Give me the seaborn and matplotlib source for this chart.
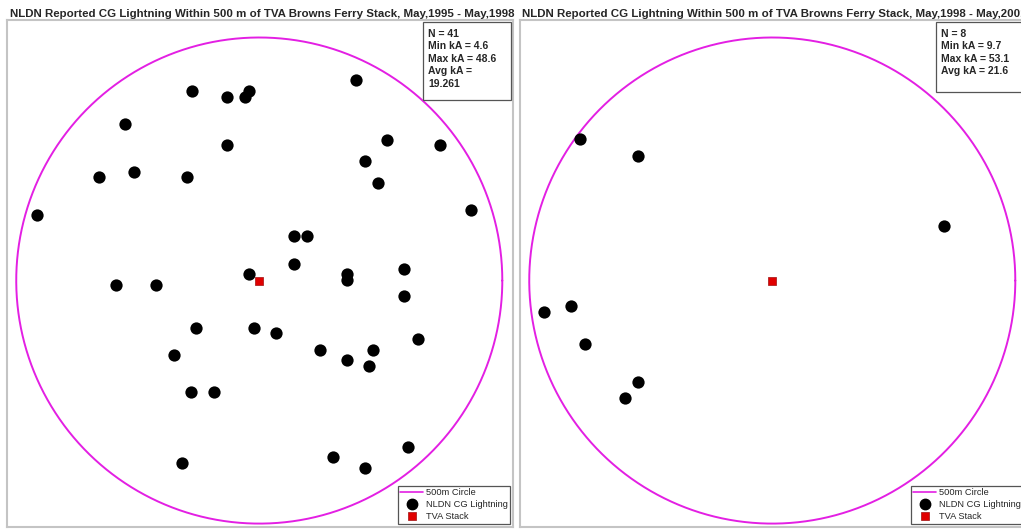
import numpy as np
import pandas as pd
import matplotlib
matplotlib.use('Agg')
import matplotlib.pyplot as plt
from matplotlib.lines import Line2D
from matplotlib.patches import Rectangle
import seaborn as sns

sns.set_style('white')
plt.rcParams['font.family'] = ['Liberation Sans', 'DejaVu Sans']

# strike positions, metres east / north of the stack
x_9598 = [-139, -66, -29, -21, 199, -276, -66, 262, 372, 218, 244, -330, -257, -148,
          -458, 435, 71, 98, 71, -21, 180, 180, 298, -294, -212, 298, -130, -11, 34,
          326, -176, 125, 235, 180, 226, -140, -93, 307, -158, 152, 218]
y_9598 = [389, 378, 378, 389, 412, 323, 279, 290, 279, 246, 201, 212, 223, 212,
          135, 145, 91, 91, 35, 13, 13, 1, 23, -9, -9, -31, -98, -98, -108,
          -120, -153, -142, -142, -164, -176, -230, -230, -342, -375, -363, -385]
x_9801 = [-395, -276, 353, -469, -414, -386, -276, -304]
y_9801 = [291, 257, 113, -64, -53, -130, -209, -241]

stack_x = [0]
stack_y = [0]
radius = 500

titles = ['NLDN Reported CG Lightning Within 500 m of TVA Browns Ferry Stack, May,1995 - May,1998',
          'NLDN Reported CG Lightning Within 500 m of TVA Browns Ferry Stack, May,1998 - May,2001']
stats = ['N = 41\nMin kA = 4.6\nMax kA = 48.6\nAvg kA =\n19.261',
         'N = 8\nMin kA = 9.7\nMax kA = 53.1\nAvg kA = 21.6']
box_bottom = [0.842, 0.858]

magenta = '#e31fe3'
red = '#e00000'

fig = plt.figure(figsize=(10.21, 5.29), dpi=100)
W, H = 1021, 529
axes = [fig.add_axes([7 / W, 2 / H, 506 / W, 507 / H]),
        fig.add_axes([520 / W, 2 / H, 506 / W, 507 / H])]
title_x = [10, 522]

for i, (ax, xs, ys) in enumerate(zip(axes, [x_9598, x_9801], [y_9598, y_9801])):
    pts = pd.DataFrame({'x': xs, 'y': ys})
    theta = np.linspace(0, 2 * np.pi, 400)
    ax.plot(radius * np.cos(theta), radius * np.sin(theta), color=magenta, lw=1.4, zorder=1)
    sns.scatterplot(data=pts, x='x', y='y', ax=ax, color='black', s=78,
                    edgecolor='black', linewidth=0, zorder=3)
    sns.scatterplot(x=stack_x, y=stack_y, ax=ax, color=red, marker='s', s=36,
                    edgecolor='#a01010', linewidth=0.5, zorder=4)
    ax.set_xlim(-519, 522)
    ax.set_ylim(-507, 536)
    ax.set_xticks([])
    ax.set_yticks([])
    ax.set_xlabel('')
    ax.set_ylabel('')
    for sp in ax.spines.values():
        sp.set_color('#c4c4c4')
        sp.set_linewidth(1.5)

    fig.text(title_x[i] / W, 1 - 17 / H, titles[i], fontsize=8.25, fontweight='bold',
             va='baseline', ha='left')

    ax.add_patch(Rectangle((0.822, box_bottom[i]), 0.175, 0.996 - box_bottom[i],
                           transform=ax.transAxes, facecolor='white',
                           edgecolor='#555555', lw=0.9, zorder=5))
    ax.text(0.832, 0.983, stats[i], transform=ax.transAxes, fontsize=7.5,
            fontweight='bold', va='top', ha='left', linespacing=1.32, zorder=6)

    handles = [Line2D([], [], color=magenta, lw=1.2),
               Line2D([], [], color='black', marker='o', ls='none', markersize=7.5),
               Line2D([], [], color=red, marker='s', ls='none', markersize=5.5,
                      markeredgecolor='#a01010', markeredgewidth=0.5)]
    leg = ax.legend(handles, ['500m Circle', 'NLDN CG Lightning', 'TVA Stack'],
                    loc='lower right', bbox_to_anchor=(1.0, 0.0), fontsize=6.7,
                    handlelength=2.5, handletextpad=0.25, labelspacing=0.35,
                    borderpad=0.25, borderaxespad=0.35, fancybox=False,
                    framealpha=1, edgecolor='#555555')
    leg.get_frame().set_linewidth(0.9)
    leg.set_zorder(7)

fig.savefig('out.png', dpi=100)
